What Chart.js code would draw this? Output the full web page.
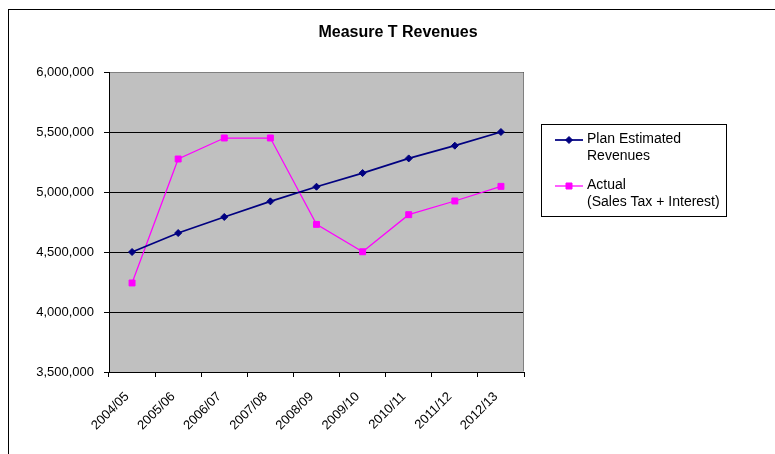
<!DOCTYPE html>
<html>
<head>
<meta charset="utf-8">
<title>Measure T Revenues</title>
<script src="https://cdn.jsdelivr.net/npm/chart.js@4.4.1/dist/chart.umd.min.js"></script>
<style>
    html, body { margin: 0; padding: 0; background: #fff; }
    #wrap { width: 775px; height: 454px; }
</style>
</head>
<body>
<div id="wrap"><canvas id="revenueChart" width="775" height="454"></canvas></div>
<script>
// ===== dados =====
const fiscalYears = ['2004/05', '2005/06', '2006/07', '2007/08', '2008/09', '2009/10', '2010/11', '2011/12', '2012/13'];
const planRevenues = [4500000, 4658000, 4792000, 4922000, 5044000, 5158000, 5280000, 5386000, 5500000];
const actualRevenues = [4242000, 5275000, 5450000, 5450000, 4730000, 4502000, 4811000, 4925000, 5047000];

const planLabel = ['Plan Estimated', 'Revenues'];
const actualLabel = ['Actual', '(Sales Tax + Interest)'];

const yMin = 3500000;
const yMax = 6000000;
const yStep = 500000;

const FONT = '"Liberation Sans", Arial, sans-serif';
const NAVY = '#000080';
const MAGENTA = '#FF00FF';

// marcador manual para a legenda
function drawMarker(ctx, style, x, y, color) {
    ctx.save();
    ctx.fillStyle = color;
    ctx.strokeStyle = color;
    ctx.lineWidth = 1;
    ctx.beginPath();
    if (style === 'rectRot') {
        ctx.moveTo(x, y - 3.5);
        ctx.lineTo(x + 3.5, y);
        ctx.lineTo(x, y + 3.5);
        ctx.lineTo(x - 3.5, y);
        ctx.closePath();
    } else {
        ctx.rect(x - 3, y - 3, 6, 6);
    }
    ctx.fill();
    ctx.stroke();
    ctx.restore();
}

// fundo cinza, moldura, titulo e legenda
const excelFrame = {
    id: 'excelFrame',
    beforeDraw(chart) {
        const { ctx, chartArea: a } = chart;
        ctx.save();
        ctx.fillStyle = '#fff';
        ctx.fillRect(0, 0, chart.width, chart.height);
        ctx.fillStyle = '#C0C0C0';
        ctx.fillRect(a.left, a.top, a.right - a.left, a.bottom - a.top);
        ctx.restore();
    },
    beforeDatasetsDraw(chart) {
        const { ctx, chartArea: a } = chart;
        ctx.save();
        ctx.strokeStyle = '#808080';
        ctx.lineWidth = 1;
        ctx.beginPath();
        ctx.moveTo(a.left + 1, Math.round(a.top) + 0.5);
        ctx.lineTo(Math.round(a.right) - 0.5, Math.round(a.top) + 0.5);
        ctx.lineTo(Math.round(a.right) - 0.5, a.bottom - 1);
        ctx.stroke();
        ctx.restore();
    },
    afterDraw(chart) {
        const ctx = chart.ctx;
        ctx.save();

        // moldura externa
        ctx.strokeStyle = '#000';
        ctx.lineWidth = 1;
        ctx.strokeRect(8.5, 9.5, 900, 600);

        // titulo
        ctx.fillStyle = '#000';
        ctx.font = 'bold 16px ' + FONT;
        ctx.textAlign = 'center';
        ctx.textBaseline = 'middle';
        ctx.fillText('Measure T Revenues', 398, 33);

        // legenda
        ctx.fillStyle = '#fff';
        ctx.fillRect(541, 124, 186, 93);
        ctx.strokeStyle = '#000';
        ctx.strokeRect(541.5, 124.5, 185, 92);

        const entries = [
            { lines: planLabel, color: NAVY, style: 'rectRot', y: 140, width: 1.75 },
            { lines: actualLabel, color: MAGENTA, style: 'rect', y: 186, width: 1.25 }
        ];
        ctx.font = '14px ' + FONT;
        ctx.textAlign = 'left';
        entries.forEach(e => {
            ctx.strokeStyle = e.color;
            ctx.lineWidth = e.width;
            ctx.beginPath();
            ctx.moveTo(555, e.y);
            ctx.lineTo(583, e.y);
            ctx.stroke();
            drawMarker(ctx, e.style, 569, e.y, e.color);
            ctx.fillStyle = '#000';
            e.lines.forEach((t, i) => ctx.fillText(t, 587, e.y - 1 + i * 17));
        });
        ctx.restore();
    }
};

new Chart(document.getElementById('revenueChart'), {
    type: 'line',
    data: {
        labels: fiscalYears,
        datasets: [{
            label: planLabel.join(' '),
            data: planRevenues,
            borderColor: NAVY,
            backgroundColor: NAVY,
            borderWidth: 1.75,
            pointStyle: 'rectRot',
            pointRadius: 3.5,
            pointBorderWidth: 1,
            tension: 0
        }, {
            label: actualLabel.join(' '),
            data: actualRevenues,
            borderColor: MAGENTA,
            backgroundColor: MAGENTA,
            borderWidth: 1.25,
            pointStyle: 'rect',
            pointRadius: 4.2,
            pointBorderWidth: 1,
            tension: 0
        }]
    },
    options: {
        responsive: false,
        animation: false,
        devicePixelRatio: 1,
        layout: { padding: { left: 0, top: 72, right: 251, bottom: 0 } },
        plugins: {
            legend: { display: false },
            title: { display: false },
            tooltip: { enabled: false }
        },
        scales: {
            x: {
                offset: true,
                afterFit: (scale) => { scale.height = 82; },
                grid: {
                    offset: true,
                    drawOnChartArea: false,
                    drawTicks: true,
                    tickLength: 5,
                    color: '#000'
                },
                border: { color: '#000', width: 1 },
                ticks: {
                    minRotation: 45,
                    maxRotation: 45,
                    autoSkip: false,
                    padding: 12,
                    labelOffset: -5,
                    color: '#000',
                    font: { family: FONT, size: 13 }
                }
            },
            y: {
                min: yMin,
                max: yMax,
                afterFit: (scale) => { scale.width = 109; },
                grid: {
                    color: '#000',
                    tickLength: 5,
                    lineWidth: 1
                },
                border: { color: '#000', width: 1 },
                ticks: {
                    stepSize: yStep,
                    padding: 10,
                    color: '#000',
                    font: { family: FONT, size: 13 },
                    callback: (v) => v.toLocaleString('en-US')
                }
            }
        }
    },
    plugins: [excelFrame]
});
</script>
</body>
</html>
